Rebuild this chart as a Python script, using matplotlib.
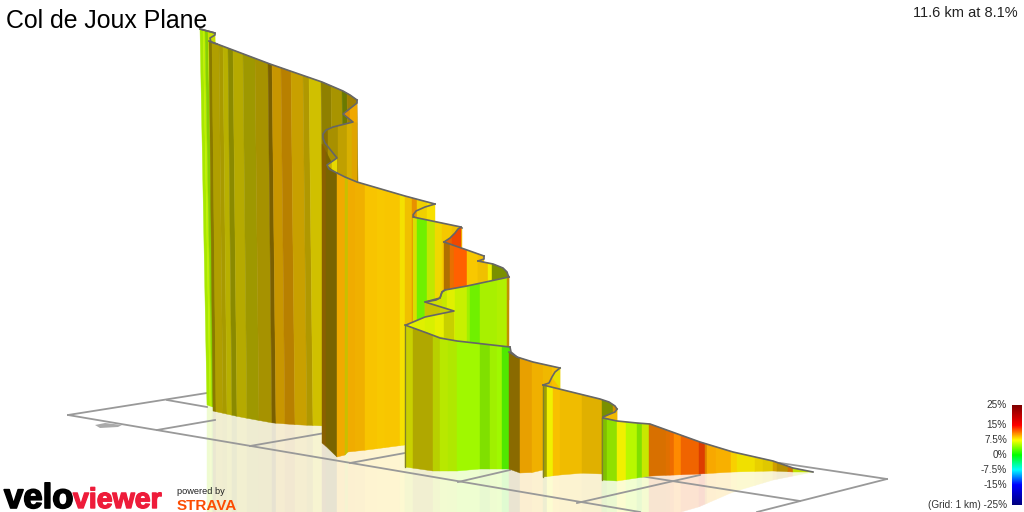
import numpy as np
import matplotlib
matplotlib.use("Agg")
import matplotlib.pyplot as plt
import matplotlib.patheffects as pe
from matplotlib.colors import LinearSegmentedColormap, Normalize, to_rgb

plt.rcParams['font.family'] = ['Liberation Sans', 'DejaVu Sans']

title = "Col de Joux Plane"
summary = "11.6 km at 8.1%"

green_edges = [200, 203, 205, 208, 215]
green_colours = ["#a8e800", "#c0f000", "#88d000", "#c8e000"]
green_top = [(200, 29), (215, 33)]
green_bottom = [(207, 405), (222, 410)]

main_edges = [209, 212, 219, 223, 228, 233, 243, 255, 268, 272, 281, 291, 303, 309, 321, 331, 342, 347, 357]
main_colours = ["#8a7a00", "#b09f00", "#a89a00", "#b8b000", "#8a8a00", "#b5aa00", "#9e9800", "#a69200", "#7a5f00",
                "#c89600", "#b88000", "#c8a000", "#b09800", "#d0c000", "#8f8000", "#a89400", "#6a7a00", "#a08000"]
main_top = [(209, 41), (217, 44), (270, 64), (322, 82), (343, 91), (350, 95), (357, 100)]
main_bottom = [(213, 411), (240, 417), (273, 423), (300, 425), (325, 426), (361, 427)]

notch_edges = [343, 350, 357]
notch_colours = ["#e09000", "#f0a800"]
notch_top = [(343, 114), (357, 103)]
notch_bottom = [(343, 114), (357, 125)]

upper_edges = [323, 328, 338, 347, 352, 357]
upper_colours = ["#8a7000", "#a89000", "#c0a000", "#d8b000", "#e0a400"]
upper_top = [(323, 134), (333, 127), (353, 122), (357, 123)]
upper_bottom = [(323, 300), (357, 300)]

third_edges = [322, 326, 337, 345, 348, 355, 365, 377, 385, 400, 405, 412, 417, 427, 435]
third_colours = ["#8a6000", "#7a6400", "#f0aa00", "#c8c000", "#f0ac00", "#f0b000", "#f8c400", "#f8c800",
                 "#f8c600", "#f5e000", "#f0c000", "#e89000", "#f0d000", "#f8e000"]
third_top = [(322, 144), (337, 173), (345, 177), (357, 182), (405, 196), (435, 204)]
third_bottom = [(324, 443), (327, 448), (330, 455), (337, 457), (345, 455), (348, 452), (367, 450), (405, 445), (435, 442)]

wedge_edges = [327, 332, 337]
wedge_colours = ["#c8b000", "#e8d800"]
wedge_top = [(327, 165), (337, 158)]
wedge_bottom = [(327, 165), (337, 173)]

fourth_edges = [413, 417, 427, 435, 442, 452, 462]
fourth_colours = ["#d8e000", "#70f000", "#c0e800", "#f0d800", "#f5c800", "#f0c000"]
fourth_top = [(413, 217), (461, 227), (462, 228)]
fourth_bottom = [(413, 440), (462, 440)]

red_edges = [444, 452, 461]
red_colours = ["#e86000", "#f04800"]
red_top = [(444, 242), (450, 238), (455, 233), (458, 229), (461, 227)]
red_bottom = [(444, 242), (461, 248)]

fifth_edges = [444, 450, 454, 467, 478, 484]
fifth_colours = ["#b07000", "#e87000", "#ff6000", "#f8c800", "#f5c000"]
fifth_top = [(444, 242), (467, 250), (484, 256)]
fifth_bottom = [(444, 300), (484, 300)]

bend_edges = [478, 488, 492, 507, 509]
bend_colours = ["#f0c000", "#f0f000", "#7a9000", "#a08000"]
bend_top = [(478, 261), (493, 264), (503, 268), (507, 272), (508, 275), (509, 277)]
bend_bottom = [(478, 300), (509, 300)]

sixth_edges = [425, 442, 447, 455, 467, 470, 480, 497, 507, 509]
sixth_colours = ["#d0e000", "#c8e800", "#e0f000", "#c8f000", "#a0f000", "#70f000", "#a8f000", "#b0f000", "#c09000"]
sixth_top = [(425, 302), (436, 300), (440, 298), (442, 292), (445, 290), (467, 286), (509, 277)]
sixth_bottom = [(425, 350), (509, 350)]

ledge_edges = [425, 440, 454]
ledge_colours = ["#c8c400", "#c8d000"]
ledge_top = [(425, 302), (454, 311)]
ledge_bottom = [(425, 317), (454, 311)]

front_ledge_edges = [406, 412, 425, 435, 444, 454]
front_ledge_colours = ["#f0f000", "#e0f000", "#d8f000", "#e8f000", "#c8d000"]
front_ledge_top = [(406, 325), (415, 321), (425, 317), (454, 311)]
front_ledge_bottom = [(406, 325), (427, 333), (454, 340)]

seventh_edges = [405, 413, 433, 440, 448, 457, 480, 490, 497, 502, 510]
seventh_colours = ["#c8d000", "#b0a800", "#b8d000", "#b8e800", "#b0e800", "#a0f800", "#80e000", "#a0f000", "#a0f800", "#50e800"]
seventh_top = [(405, 325), (427, 333), (440, 338), (457, 341), (510, 347)]
seventh_bottom = [(405, 467), (433, 471), (457, 471), (480, 469), (510, 469)]

eighth_edges = [509, 520, 532, 543, 552, 560]
eighth_colours = ["#8a6a00", "#e8a000", "#f0b000", "#f0b800", "#f8c000"]
eighth_top = [(509, 352), (517, 357), (533, 362), (560, 368)]
eighth_bottom = [(510, 469), (513, 473), (530, 473), (543, 470), (560, 470)]

tip_edges = [552, 560]
tip_colours = ["#e8e000"]
tip_top = [(552, 377), (560, 368)]
tip_bottom = [(552, 377), (560, 388)]

ninth_edges = [543, 547, 553, 560, 582, 602, 613, 617]
ninth_colours = ["#a0a000", "#f0f000", "#f8c000", "#f0bc00", "#e0b000", "#7a9000", "#d09000"]
ninth_top = [(543, 385), (600, 399), (609, 402), (615, 406), (617, 409)]
ninth_bottom = [(543, 477), (560, 475), (577, 473), (602, 474), (617, 474)]

turn_edges = [603, 610, 617]
turn_colours = ["#f0c000", "#f0b800"]
turn_top = [(603, 417), (610, 414), (615, 412), (617, 409)]
turn_bottom = [(603, 417), (617, 421)]

last_edges = [602, 607, 617, 626, 637, 642, 649, 666, 670, 674, 681, 699, 705, 707, 716, 731, 737, 755, 763, 773, 777, 788, 793, 813]
last_colours = ["#80c000", "#90e000", "#f0f000", "#b8f800", "#80e000", "#c8e800", "#d87000", "#e07000", "#ee6c00", "#ff8a00",
                "#f06400", "#dd3c00", "#e08000", "#f8a800", "#f8b000", "#f8d000", "#f0e000", "#e8d000", "#e0c800", "#d0a000",
                "#b89000", "#d07000", "#c0e000"]
last_top = [(603, 418), (617, 421), (637, 423), (650, 424), (700, 442), (733, 452), (773, 461), (793, 468), (813, 472)]
last_bottom = [(602, 480), (617, 481), (637, 478), (650, 476), (700, 474), (733, 472), (773, 471), (793, 472), (813, 472)]

# fold lines that go backwards, not part of a wall top
fold_lines = [
    [(200, 29), (215, 33), (215, 35), (210, 38), (211, 42), (217, 44)],
    [(357, 100), (357, 103), (343, 114), (353, 122), (333, 127), (326, 130), (323, 134), (323, 138), (325, 143), (337, 158),
     (327, 165), (329, 169), (337, 173)],
    [(435, 204), (425, 207), (416, 211), (413, 215), (414, 217)],
    [(461, 227), (458, 229), (455, 233), (450, 238), (444, 242)],
    [(484, 256), (484, 259), (478, 261)],
    [(445, 290), (442, 292), (440, 298), (425, 302), (454, 311), (425, 317), (406, 325)],
    [(510, 347), (511, 352), (517, 357)],
    [(560, 368), (555, 372), (552, 377), (549, 383), (543, 385)],
    [(617, 409), (615, 412), (610, 414), (603, 417), (603, 418)],
]

grid_lines = [
    [(68, 415), (207, 393)],
    [(68, 415), (640, 512)],
    [(167, 400), (207, 407)],
    [(157, 430), (215, 420)],
    [(250, 446), (325, 433)],
    [(350, 463), (405, 453)],
    [(458, 482), (510, 470)],
    [(577, 503), (700, 475)],
    [(640, 476), (800, 501)],
    [(780, 463), (887, 479)],
    [(887, 479), (757, 512)],
]

reflection_floor = [(200, 512), (687, 512), (733, 492), (773, 480), (813, 472)]

bar_values = [-25, -15, -7.5, 0, 7.5, 15, 25]
bar_colours = ["#00007f", "#0000ff", "#00ffff", "#00ff00", "#ffff00", "#ff0000", "#7f0000"]
bar_labels = ["(Grid: 1 km) -25%", "-15%", "-7.5%", "0%", "7.5%", "15%", "25%"]


def strips(edges, top, bottom, lean=0):
    """one polygon per strip of a wall: top follows the road, bottom follows the ground"""
    tx, ty = zip(*top)
    bx, by = zip(*bottom)
    polys = []
    for left, right in zip(edges[:-1], edges[1:]):
        upper = [(left, np.interp(left, tx, ty))]
        upper += [p for p in top if left < p[0] < right]
        upper.append((right, np.interp(right, tx, ty)))
        lower = [(right + lean, np.interp(right + lean, bx, by)),
                 (left + lean, np.interp(left + lean, bx, by))]
        polys.append(upper + lower)
    return polys


def draw_wall(ax, edges, colours, top, bottom, lean=0, outline=True, left_edge=False):
    for poly, colour in zip(strips(edges, top, bottom, lean), colours):
        ax.fill(*zip(*poly), facecolor=colour, edgecolor=colour, lw=0.3, zorder=3)
    if left_edge:
        ax.plot([edges[0], edges[0] + lean],
                [np.interp(edges[0], *zip(*top)), np.interp(edges[0] + lean, *zip(*bottom))],
                color="#80802a", lw=0.9, zorder=3)
    if outline:
        ax.plot(*zip(*top), color="#666666", lw=1.2, zorder=3, solid_joinstyle="round")


def draw_reflection(ax, edges, colours, bottom, lean=0):
    bx, by = zip(*bottom)
    fx, fy = zip(*reflection_floor)
    for left, right, colour in zip(edges[:-1], edges[1:], colours):
        l, r = left + lean, right + lean
        pale = [0.18 * c + 0.82 for c in to_rgb(colour)]
        ax.fill([l, r, r, l],
                [np.interp(l, bx, by), np.interp(r, bx, by), np.interp(r, fx, fy), np.interp(l, fx, fy)],
                facecolor=pale, edgecolor=pale, lw=0.3, zorder=1)


fig = plt.figure(figsize=(10.24, 5.12), dpi=100)
ax = fig.add_axes([0, 0, 1, 1])

# reflections on the ground, back to front
draw_reflection(ax, green_edges, green_colours, green_bottom, 7)
draw_reflection(ax, main_edges, main_colours, main_bottom, 4)
draw_reflection(ax, third_edges, third_colours, third_bottom)
draw_reflection(ax, seventh_edges, seventh_colours, seventh_bottom)
draw_reflection(ax, eighth_edges, eighth_colours, eighth_bottom)
draw_reflection(ax, ninth_edges, ninth_colours, ninth_bottom)
draw_reflection(ax, last_edges, last_colours, last_bottom)

for line in grid_lines:
    ax.plot(*zip(*line), color="#999999", lw=1.3, zorder=2)
ax.fill([95, 105, 122, 118, 100], [425, 423, 425, 427, 428], color="#aaaaaa", lw=0, zorder=2)

# walls, far end of the climb first
draw_wall(ax, green_edges, green_colours, green_top, green_bottom, lean=7)
draw_wall(ax, main_edges, main_colours, main_top, main_bottom, lean=4)
draw_wall(ax, notch_edges, notch_colours, notch_top, notch_bottom, outline=False)
draw_wall(ax, upper_edges, upper_colours, upper_top, upper_bottom, outline=False)
draw_wall(ax, third_edges, third_colours, third_top, third_bottom, outline=False)
ax.plot(*zip(*third_top[1:]), color="#666666", lw=1.2, zorder=3)
draw_wall(ax, wedge_edges, wedge_colours, wedge_top, wedge_bottom, outline=False)
draw_wall(ax, fourth_edges, fourth_colours, fourth_top, fourth_bottom)
draw_wall(ax, red_edges, red_colours, red_top, red_bottom, outline=False)
draw_wall(ax, fifth_edges, fifth_colours, fifth_top, fifth_bottom)
draw_wall(ax, bend_edges, bend_colours, bend_top, bend_bottom)
draw_wall(ax, sixth_edges, sixth_colours, sixth_top, sixth_bottom)
draw_wall(ax, ledge_edges, ledge_colours, ledge_top, ledge_bottom, outline=False)
draw_wall(ax, front_ledge_edges, front_ledge_colours, front_ledge_top, front_ledge_bottom, outline=False)
draw_wall(ax, seventh_edges, seventh_colours, seventh_top, seventh_bottom, left_edge=True)
draw_wall(ax, eighth_edges, eighth_colours, eighth_top, eighth_bottom)
draw_wall(ax, tip_edges, tip_colours, tip_top, tip_bottom, outline=False)
draw_wall(ax, ninth_edges, ninth_colours, ninth_top, ninth_bottom, left_edge=True)
draw_wall(ax, turn_edges, turn_colours, turn_top, turn_bottom, outline=False)
draw_wall(ax, last_edges, last_colours, last_top, last_bottom, left_edge=True)

for line in fold_lines:
    ax.plot(*zip(*line), color="#666666", lw=1.2, zorder=4, solid_joinstyle="round")

# colour scale
stops = [(v + 25) / 50 for v in bar_values]
cmap = LinearSegmentedColormap.from_list("grade", list(zip(stops, bar_colours)))
ax.imshow(np.linspace(25, -25, 200).reshape(-1, 1), cmap=cmap, norm=Normalize(-25, 25),
          extent=[1012, 1022, 505, 405], aspect="auto", zorder=5)
for v, label in zip(bar_values, bar_labels):
    ax.text(1007, 455 - 2 * v, label, ha="right", va="center", fontsize=7.2, color="#333333", zorder=6)

ax.text(6, 21, title, fontsize=17.9, color="black", ha="left", va="center", zorder=6)
ax.text(1018, 13, summary, fontsize=10.5, color="#222222", ha="right", va="center", zorder=6)

# logos
ax.text(4, 508, "velo", fontsize=25, fontweight="bold", color="black", va="baseline", zorder=6,
        path_effects=[pe.withStroke(linewidth=1.2, foreground="black")])
ax.text(73, 508, "viewer", fontsize=20.5, fontweight="bold", color="#ee1c3a", va="baseline", zorder=6,
        path_effects=[pe.withStroke(linewidth=1.0, foreground="#ee1c3a")])
ax.text(177, 492, "powered by", fontsize=6.7, color="#222222", va="center", zorder=6)
ax.text(177, 510, "STRAVA", fontsize=11, fontweight="bold", color="#fc4c02", va="baseline", zorder=6)

ax.set_xlim(0, 1024)
ax.set_ylim(512, 0)
ax.axis("off")
fig.savefig("out.png", dpi=100)
